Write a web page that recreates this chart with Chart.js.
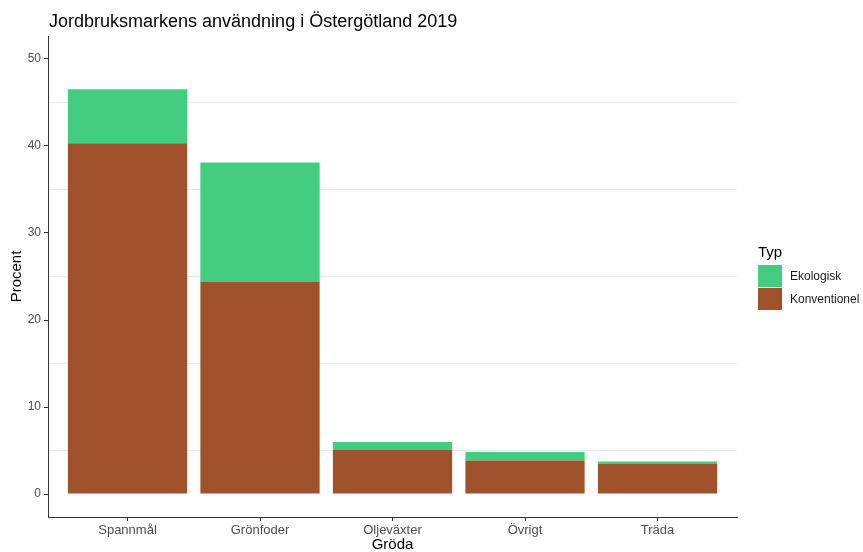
<!DOCTYPE html>
<html lang="sv">
<head>
<meta charset="UTF-8">
<title>Jordbruksmarkens användning</title>
<script src="https://cdn.jsdelivr.net/npm/chart.js"></script>
<style>
  html, body { margin: 0; padding: 0; background: #fff; }
  #wrap { width: 863px; height: 552px; position: relative; }
</style>
</head>
<body>
<div id="wrap"><canvas id="myChart" width="863" height="552"></canvas></div>
<script>
// data
const grodor = ['Spannmål', 'Grönfoder', 'Oljeväxter', 'Övrigt', 'Träda'];
const konventionel = [40.3, 24.4, 5.06, 3.87, 3.53];
const ekologisk = [6.2, 13.7, 0.92, 0.96, 0.23];
const yTickLabels = [0, 10, 20, 30, 40, 50];
const yGridLines = [5, 15, 25, 35, 45];

const titel = 'Jordbruksmarkens användning i Östergötland 2019';
const fontFam = '"Liberation Sans", Arial, sans-serif';

// x as numbers 1..5 so the bar spacing is like ggplot (0.6 margin at the ends)
function punkter(vals) {
    return vals.map(function (v, i) { return { x: i + 1, y: v }; });
}

const dados = {
    datasets: [
        {
            label: 'Konventionel',
            data: punkter(konventionel),
            backgroundColor: '#A0522D',
            borderWidth: 0,
            categoryPercentage: 1,
            barPercentage: 0.9
        },
        {
            label: 'Ekologisk',
            data: punkter(ekologisk),
            backgroundColor: '#43CD80',
            borderWidth: 0,
            categoryPercentage: 1,
            barPercentage: 0.9
        }
    ]
};

// title + legend drawn by hand, ggplot style
const ggExtras = {
    id: 'ggExtras',
    afterDraw(chart) {
        const ctx = chart.ctx;
        ctx.save();
        ctx.fillStyle = '#000';
        ctx.textBaseline = 'alphabetic';
        ctx.textAlign = 'left';
        ctx.font = '18px ' + fontFam;
        ctx.fillText(titel, chart.chartArea.left + 1, 27);

        // legend
        ctx.font = '15px ' + fontFam;
        ctx.fillText('Typ', 758, 257);
        const ordning = [1, 0];
        ordning.forEach(function (di, k) {
            const ds = chart.data.datasets[di];
            const y = 265 + k * 23;
            ctx.fillStyle = ds.backgroundColor;
            ctx.fillRect(758, y, 24, 22);
            ctx.fillStyle = '#1a1a1a';
            ctx.font = '12px ' + fontFam;
            ctx.textBaseline = 'middle';
            ctx.fillText(ds.label, 790, y + 11.5);
        });
        ctx.restore();
    }
};

const config = {
    type: 'bar',
    data: dados,
    plugins: [ggExtras],
    options: {
        responsive: false,
        animation: false,
        layout: { padding: { top: 36, right: 126, left: 0, bottom: 0 } },
        plugins: {
            legend: { display: false },
            tooltip: { enabled: false }
        },
        scales: {
            x: {
                type: 'linear',
                stacked: true,
                offset: false,
                min: 0.4,
                max: 5.6,
                afterBuildTicks: function (scale) {
                    scale.ticks = grodor.map(function (g, i) { return { value: i + 1 }; });
                },
                afterFit: function (scale) { scale.height = 35; },
                grid: {
                    offset: false,
                    color: 'rgba(0,0,0,0)',
                    drawTicks: true,
                    tickLength: 4,
                    tickColor: '#333333',
                    tickWidth: 1
                },
                border: { display: true, color: '#333333', width: 1 },
                ticks: {
                    autoSkip: false,
                    maxRotation: 0,
                    padding: 2,
                    color: '#4d4d4d',
                    font: { family: fontFam, size: 13 },
                    callback: function (v) { return grodor[v - 1]; }
                },
                title: {
                    display: true,
                    text: 'Gröda',
                    color: '#000',
                    padding: { top: 0, bottom: 0 },
                    font: { family: fontFam, size: 15, lineHeight: 1 }
                }
            },
            y: {
                stacked: true,
                min: -2.63,
                max: 52.63,
                afterBuildTicks: function (scale) {
                    scale.ticks = yTickLabels.concat(yGridLines)
                        .sort(function (a, b) { return a - b; })
                        .map(function (v) { return { value: v }; });
                },
                afterFit: function (scale) { scale.width = 48; },
                grid: {
                    color: function (c) {
                        return yGridLines.indexOf(c.tick.value) >= 0 ? '#ebebeb' : 'rgba(0,0,0,0)';
                    },
                    lineWidth: 1,
                    drawTicks: true,
                    tickLength: 4,
                    tickColor: function (c) {
                        return yTickLabels.indexOf(c.tick.value) >= 0 ? '#333333' : 'rgba(0,0,0,0)';
                    }
                },
                border: { display: true, color: '#333333', width: 1 },
                ticks: {
                    padding: 3,
                    color: '#4d4d4d',
                    font: { family: fontFam, size: 12 },
                    callback: function (v) { return yTickLabels.indexOf(v) >= 0 ? String(v) : ''; }
                },
                title: {
                    display: true,
                    text: 'Procent',
                    color: '#000',
                    padding: { top: 8, bottom: 0 },
                    font: { family: fontFam, size: 15 }
                }
            }
        }
    }
};

let myChart = new Chart(document.getElementById('myChart'), config);
</script>
</body>
</html>
